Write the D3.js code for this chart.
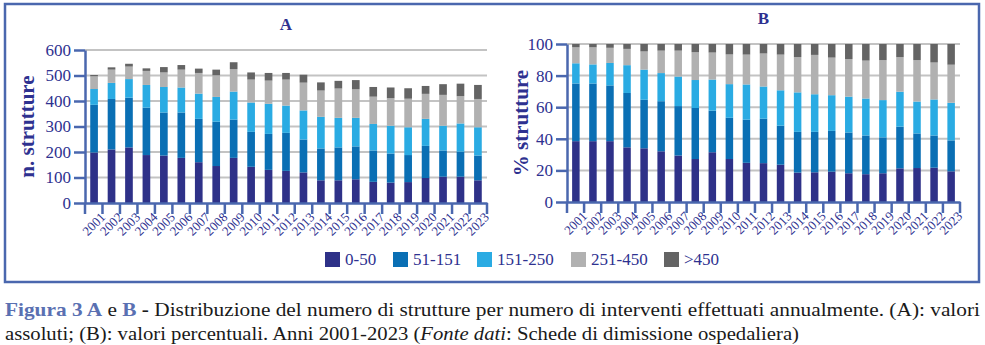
<!DOCTYPE html>
<html><head><meta charset="utf-8">
<script src="https://cdn.jsdelivr.net/npm/d3@7"></script>
<style>
body{margin:0;background:#fff;}
svg{display:block;}
svg text{font-family:"Liberation Serif","Times New Roman",Times,serif !important;}
</style></head>
<body>
<svg id="c" width="985" height="345"></svg>
<script>
const years = ["2001","2002","2003","2004","2005","2006","2007","2008","2009","2010","2011","2012","2013","2014","2015","2016","2017","2018","2019","2020","2021","2022","2023"];
const seriesNames = ["0-50","51-151","151-250","251-450",">450"];
const colors = ["#2e3188","#0a6fb4","#2aabe3","#b1b1b1","#646464"];

// Chart A: absolute numbers per class
const absA_0_50    = [198,210,218,188,186,177,160,145,177,142,130,126,120, 89, 89, 93, 83, 80, 82, 98,103,103, 89];
const absA_51_151  = [187,198,195,186,169,178,170,174,150,137,141,149,129,125,129,129,123,114,106,126,103, 98, 97];
const absA_151_250 = [ 62, 63, 73, 89,100, 98, 99, 97,110,115,118,107,114,124,116,112,104,109,109,106, 97,111,111];
const absA_251_450 = [ 50, 52, 49, 55, 57, 70, 81, 85, 88, 90, 91,102,109,103,115,112,107,108,112, 98,121,107,111];
const absA_gt450   = [  5,  9, 11, 10, 21, 18, 17, 22, 27, 28, 30, 26, 31, 32, 30, 36, 38, 42, 41, 31, 42, 49, 55];

// Chart B: percentages per class
const pctB_0_50    = [38.5,38.5,38.5,34.6,34.0,32.1,29.4,27.2,31.5,27.2,24.8,24.6,23.6,18.6,18.8,19.2,18.2,17.6,18.2,21.3,21.5,21.7,19.4];
const pctB_51_151  = [36.5,36.5,35.3,34.4,30.7,31.7,31.3,32.3,26.3,26.1,27.3,28.1,24.7,25.8,25.6,25.8,25.8,24.5,22.7,26.4,21.9,20.4,19.6];
const pctB_151_250 = [12.8,12.1,14.2,17.6,19.1,17.8,18.7,17.7,19.7,21.3,22.3,20.4,22.4,25.0,23.8,22.6,22.7,23.4,23.6,22.1,20.2,22.8,23.8];
const pctB_251_450 = [10.1,10.8, 9.6,10.3,11.5,14.2,16.4,17.6,17.1,18.8,18.9,20.9,22.6,22.3,24.9,23.8,23.8,24.0,25.3,21.9,26.2,23.4,24.1];
const pctB_gt450   = [ 2.1, 2.1, 2.4, 3.1, 4.7, 4.2, 4.2, 5.2, 5.4, 6.6, 6.7, 6.0, 6.7, 8.3, 6.9, 8.6, 9.5,10.5,10.2, 8.3,10.2,11.7,13.1];

const ticksA = [0,100,200,300,400,500,600];
const ticksB = [0,20,40,60,80,100];

const svg = d3.select("#c");
const axisCol = "#4a67ae";
const txtCol = "#2e3190";

// frame
svg.append("rect").attr("x",5).attr("y",4).attr("width",974).attr("height",278)
  .attr("fill","none").attr("stroke",axisCol).attr("stroke-width",2.5);

function drawChart(cfg){
  const {x0,x1,yTop,yBot,max,ticks,series,title,ytitle,ytitleX} = cfg;
  const g = svg.append("g");
  const x = d3.scaleBand().domain(years).range([x0,x1]).paddingInner(0.56).paddingOuter(0.3);
  const y = d3.scaleLinear().domain([0,max]).range([yBot,yTop]);
  // gridlines
  g.append("g").selectAll("line").data(ticks.filter(t=>t>0)).join("line")
    .attr("x1",x0).attr("x2",x1).attr("y1",d=>y(d)).attr("y2",d=>y(d))
    .attr("stroke","#c3c3c3").attr("stroke-width",2);
  // stacked bars
  const rows = years.map((yr,i)=>{const o={year:yr}; seriesNames.forEach((s,k)=>o[s]=series[k][i]); return o;});
  const stacked = d3.stack().keys(seriesNames)(rows);
  g.append("g").selectAll("g").data(stacked).join("g").attr("fill",(d,i)=>colors[i])
    .selectAll("rect").data(d=>d).join("rect")
    .attr("x",d=>x(d.data.year)).attr("width",x.bandwidth())
    .attr("y",d=>y(d[1])).attr("height",d=>y(d[0])-y(d[1]));
  // y axis
  const ya = g.append("g").attr("transform",`translate(${x0},0)`)
    .call(d3.axisLeft(y).tickValues(ticks).tickSize(11).tickPadding(3).tickSizeOuter(0));
  ya.attr("font-family",null);
  ya.select(".domain").attr("stroke",axisCol).attr("stroke-width",2.5);
  ya.selectAll(".tick line").attr("stroke",axisCol).attr("stroke-width",2.5);
  ya.selectAll(".tick text").attr("fill",txtCol).style("font-size","17px");
  // x axis
  const xa = g.append("g").attr("transform",`translate(0,${yBot})`)
    .call(d3.axisBottom(x).tickSize(0).tickSizeOuter(0));
  xa.attr("font-family",null);
  xa.select(".domain").attr("stroke",axisCol).attr("stroke-width",2.5);
  xa.selectAll(".tick text").attr("fill",txtCol).style("font-size","13px")
    .attr("text-anchor","end").attr("transform","translate(3,6) rotate(-45)").attr("dy","0.75em").attr("dx","0");
  // boundary tick marks
  const bounds = d3.range(years.length+1).map(i=>x0 + (x1-x0)*i/years.length);
  g.append("g").selectAll("line").data(bounds).join("line")
    .attr("x1",d=>d).attr("x2",d=>d).attr("y1",yBot).attr("y2",yBot+11)
    .attr("stroke",axisCol).attr("stroke-width",2.5);
  // title
  g.append("text").attr("x",(x0+x1)/2).attr("y",yTop-20).attr("text-anchor","middle")
    .attr("fill",txtCol).style("font-size","17px").style("font-weight","bold").text(title);
  g.append("text").attr("transform",`translate(${ytitleX},${(yTop+yBot)/2}) rotate(-90)`)
    .attr("text-anchor","middle").attr("dy","0.35em")
    .attr("fill",txtCol).style("font-size","21px").style("font-weight","bold").text(ytitle);
}

drawChart({x0:85,x1:487,yTop:50,yBot:203,max:600,ticks:ticksA,
  series:[absA_0_50,absA_51_151,absA_151_250,absA_251_450,absA_gt450],title:"A",ytitle:"n. strutture",ytitleX:27});
drawChart({x0:567,x1:960,yTop:44,yBot:202,max:100,ticks:ticksB,
  series:[pctB_0_50,pctB_51_151,pctB_151_250,pctB_251_450,pctB_gt450],title:"B",ytitle:"% strutture",ytitleX:521});

// legend
const legX = [325,393,477,571,664];
const lg = svg.append("g");
seriesNames.forEach((s,i)=>{
  lg.append("rect").attr("x",legX[i]).attr("y",252).attr("width",15).attr("height",15).attr("fill",colors[i]);
  lg.append("text").attr("x",legX[i]+20).attr("y",265).attr("fill",txtCol).style("font-size","17px").text(s);
});

// caption
const cap1 = svg.append("text").attr("x",5).attr("y",316).style("font-size","19px").attr("fill","#1a1a1a")
  .attr("textLength",975).attr("lengthAdjust","spacingAndGlyphs");
cap1.append("tspan").attr("fill","#5a70b2").style("font-weight","bold").text("Figura 3 A");
cap1.append("tspan").text(" e ");
cap1.append("tspan").attr("fill","#5a70b2").style("font-weight","bold").text("B");
cap1.append("tspan").style("font-weight","bold").text(" - ");
cap1.append("tspan").text("Distribuzione del numero di strutture per numero di interventi effettuati annualmente. (A): valori");
const cap2 = svg.append("text").attr("x",5).attr("y",340).style("font-size","19px").attr("fill","#1a1a1a")
  .attr("textLength",794).attr("lengthAdjust","spacingAndGlyphs");
cap2.append("tspan").text("assoluti; (B): valori percentuali. Anni 2001-2023 (");
cap2.append("tspan").style("font-style","italic").text("Fonte dati");
cap2.append("tspan").text(": Schede di dimissione ospedaliera)");
</script>
</body></html>
